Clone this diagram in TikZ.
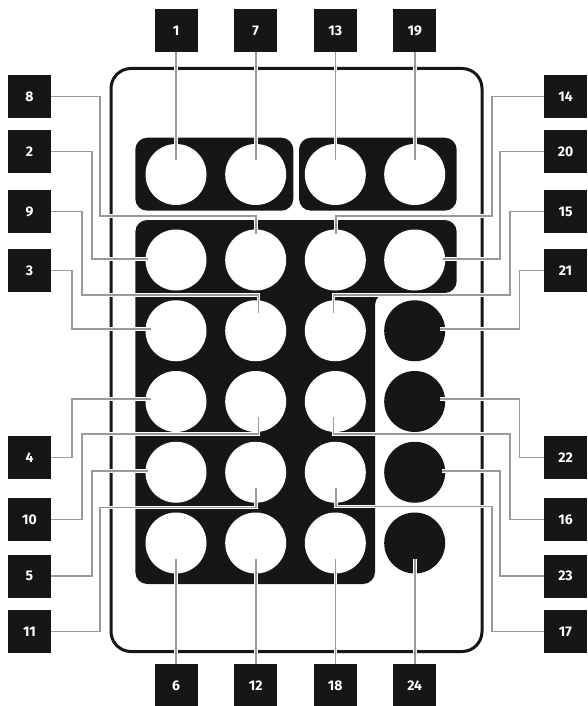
\documentclass[tikz,border=0pt]{standalone}
\usepackage{fontspec}
\setmainfont{Fira Sans}
\definecolor{ink}{HTML}{161616}
\definecolor{lead}{HTML}{9A9A9A}
\begin{document}
\begin{tikzpicture}[x=1pt,y=-1pt,
  lbl/.style={fill=ink, text=white, minimum size=43pt, inner sep=0pt,
    font=\fontsize{14}{14}\selectfont\bfseries},
  wbtn/.style={circle, fill=white, minimum size=61pt, inner sep=0pt},
  kbtn/.style={circle, fill=ink, minimum size=61pt, inner sep=0pt},
  leader/.style={draw=lead, line width=1.6pt, preaction={draw=white, line width=3.6pt}},
  housing/.style={draw=ink, line width=3pt, rounded corners=20pt},
  block/.style={fill=ink, rounded corners=12pt}]
\path[use as bounding box, fill=white] (0,0) rectangle (587,706);
\def\ca{176}\def\cb{255.7}\def\cc{335.3}\def\cd{414.7}
\def\ra{174.5}\def\rb{260}\def\rc{330.75}\def\rd{401.5}\def\re{472.25}\def\rf{543}
% housing
\draw[housing] (111,68.5) rectangle (482,651.5);
% dark groups
\fill[block] (135.3,137.7) rectangle (293.3,210.7);
\fill[block] (299,137.7) rectangle (456.7,210.7);
\fill[block] (135.3,220) -- (456.7,220) -- (456.7,293) -- (375,293) -- (375,584) -- (135.3,584) -- cycle;
% buttons
\node[wbtn] (b1) at (\ca,\ra) {};
\node[wbtn] (b7) at (\cb,\ra) {};
\node[wbtn] (b13) at (\cc,\ra) {};
\node[wbtn] (b19) at (\cd,\ra) {};
\node[wbtn] (b2) at (\ca,\rb) {};
\node[wbtn] (b8) at (\cb,\rb) {};
\node[wbtn] (b14) at (\cc,\rb) {};
\node[wbtn] (b20) at (\cd,\rb) {};
\node[wbtn] (b3) at (\ca,\rc) {};
\node[wbtn] (b9) at (\cb,\rc) {};
\node[wbtn] (b15) at (\cc,\rc) {};
\node[kbtn] (b21) at (\cd,\rc) {};
\node[wbtn] (b4) at (\ca,\rd) {};
\node[wbtn] (b10) at (\cb,\rd) {};
\node[wbtn] (b16) at (\cc,\rd) {};
\node[kbtn] (b22) at (\cd,\rd) {};
\node[wbtn] (b5) at (\ca,\re) {};
\node[wbtn] (b11) at (\cb,\re) {};
\node[wbtn] (b17) at (\cc,\re) {};
\node[kbtn] (b23) at (\cd,\re) {};
\node[wbtn] (b6) at (\ca,\rf) {};
\node[wbtn] (b12) at (\cb,\rf) {};
\node[wbtn] (b18) at (\cc,\rf) {};
\node[kbtn] (b24) at (\cd,\rf) {};
% leader end points
\coordinate (e1) at (\ca,160);
\coordinate (e7) at (\cb,160);
\coordinate (e13) at (\cc,160);
\coordinate (e19) at (\cd,160);
\coordinate (e6) at (\ca,559);
\coordinate (e12) at (\cb,559);
\coordinate (e18) at (\cc,559);
\coordinate (e24) at (\cd,559);
\coordinate (e8) at (255.7,234);
\coordinate (e2) at (148.3,259);
\coordinate (e9) at (258.3,313.3);
\coordinate (e3) at (150.7,329);
\coordinate (e4) at (150.7,399);
\coordinate (e10) at (258.3,416.7);
\coordinate (e5) at (148.3,470.7);
\coordinate (e11) at (255.7,488.3);
\coordinate (e14) at (336,234);
\coordinate (e20) at (443.3,259);
\coordinate (e15) at (333.3,313.3);
\coordinate (e21) at (440,329);
\coordinate (e22) at (440,399);
\coordinate (e16) at (333.3,416.7);
\coordinate (e23) at (441.7,470.7);
\coordinate (e17) at (336,488.3);
% labels
\node[lbl] (L1) at (\ca,30.5) {1};
\node[lbl] (L7) at (\cb,30.5) {7};
\node[lbl] (L13) at (\cc,30.5) {13};
\node[lbl] (L19) at (\cd,30.5) {19};
\node[lbl] (L6) at (\ca,685.5) {6};
\node[lbl] (L12) at (\cb,685.5) {12};
\node[lbl] (L18) at (\cc,685.5) {18};
\node[lbl] (L24) at (\cd,685.5) {24};
\node[lbl] (L8) at (29.5,96.5) {8};
\node[lbl] (L2) at (29.5,151.5) {2};
\node[lbl] (L9) at (29.5,211.5) {9};
\node[lbl] (L3) at (29.5,270.5) {3};
\node[lbl] (L4) at (29.5,457.5) {4};
\node[lbl] (L10) at (29.5,519.5) {10};
\node[lbl] (L5) at (29.5,576) {5};
\node[lbl] (L11) at (29.5,631.5) {11};
\node[lbl] (L14) at (565.5,96.5) {14};
\node[lbl] (L20) at (565.5,151.5) {20};
\node[lbl] (L15) at (565.5,211.5) {15};
\node[lbl] (L21) at (565.5,270.5) {21};
\node[lbl] (L22) at (565.5,457.5) {22};
\node[lbl] (L16) at (565.5,519.5) {16};
\node[lbl] (L23) at (565.5,576) {23};
\node[lbl] (L17) at (565.5,631.5) {17};
% leaders
\draw[leader] (L1.south) -- (e1);
\draw[leader] (L7.south) -- (e7);
\draw[leader] (L13.south) -- (e13);
\draw[leader] (L19.south) -- (e19);
\draw[leader] (L6.north) -- (e6);
\draw[leader] (L12.north) -- (e12);
\draw[leader] (L18.north) -- (e18);
\draw[leader] (L24.north) -- (e24);
\draw[leader] (L8.east) -| (100,216) -| (e8);
\draw[leader] (L2.east) -| (91.7,259) -- (e2);
\draw[leader] (L9.east) -| (81.7,295) -| (e9);
\draw[leader] (L3.east) -| (71.7,329) -- (e3);
\draw[leader] (L4.east) -| (71.7,399) -- (e4);
\draw[leader] (L10.east) -| (81.7,434) -| (e10);
\draw[leader] (L5.east) -| (91.7,470.7) -- (e5);
\draw[leader] (L11.east) -| (100,507.3) -| (e11);
\draw[leader] (L14.west) -| (491.7,216) -| (e14);
\draw[leader] (L20.west) -| (500,259) -- (e20);
\draw[leader] (L15.west) -| (509.7,295) -| (e15);
\draw[leader] (L21.west) -| (519.3,329) -- (e21);
\draw[leader] (L22.west) -| (519.3,399) -- (e22);
\draw[leader] (L16.west) -| (509.7,434) -| (e16);
\draw[leader] (L23.west) -| (500,470.7) -- (e23);
\draw[leader] (L17.west) -| (491.7,506.5) -| (e17);
\end{tikzpicture}
\end{document}
